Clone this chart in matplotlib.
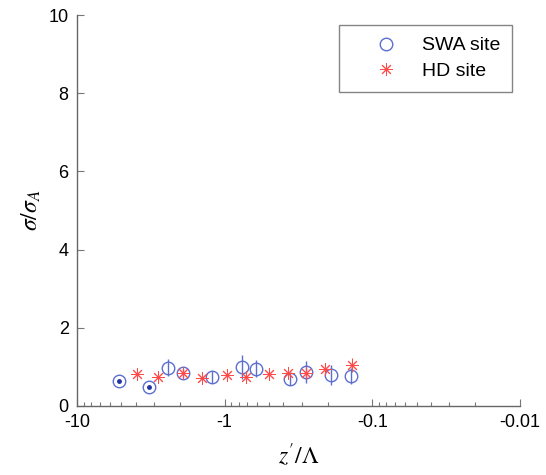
import matplotlib
matplotlib.use("Agg")
import matplotlib.pyplot as plt
from matplotlib.ticker import FixedLocator, LogLocator, NullFormatter

plt.rcParams['font.family'] = ['Liberation Sans', 'DejaVu Sans']
plt.rcParams['mathtext.fontset'] = 'stix'

# SWA site (blue circles), z'/Lambda is negative, stored as magnitude
swa_z = [5.2, 3.24, 2.41, 1.92, 1.22, 0.763, 0.614, 0.361, 0.282, 0.191, 0.140]
swa_s = [0.64, 0.48, 0.98, 0.84, 0.75, 0.99, 0.95, 0.69, 0.87, 0.79, 0.77]
swa_err = [0.0, 0.0, 0.21, 0.13, 0.15, 0.31, 0.22, 0.15, 0.27, 0.25, 0.20]

# HD site (red stars)
hd_z = [3.91, 2.82, 1.91, 1.43, 0.97, 0.72, 0.50, 0.374, 0.282, 0.209, 0.137]
hd_s = [0.82, 0.75, 0.84, 0.71, 0.79, 0.75, 0.81, 0.84, 0.84, 0.94, 1.05]
hd_err = [0.05, 0.05, 0.08, 0.06, 0.05, 0.10, 0.06, 0.08, 0.15, 0.12, 0.18]

xticks = [10, 1, 0.1, 0.01]
xticklabels = ['-10', '-1', '-0.1', '-0.01']
yticks = [0, 2, 4, 6, 8, 10]

blue = '#5b6fd0'
red = '#ff4a4a'

fig = plt.figure(figsize=(5.46, 4.75), dpi=100)
ax = fig.add_axes([0.141, 0.1453, 0.811, 0.823])

ax.errorbar(swa_z, swa_s, yerr=swa_err, fmt='none', ecolor=blue, elinewidth=1.0, capsize=0)
ax.plot(swa_z, swa_s, 'o', mfc='none', mec=blue, ms=9, mew=1.0, label='SWA site')
# the two left-most circles have a dot in the centre
ax.plot(swa_z[:2], swa_s[:2], 'o', color='#2233aa', ms=2.5, ls='none')

ax.errorbar(hd_z, hd_s, yerr=hd_err, fmt='none', ecolor=red, elinewidth=0.8, capsize=0)
ax.plot(hd_z, hd_s, marker=(8, 2, 0), ls='none', color=red, ms=9, mew=0.7, label='HD site')

ax.set_xscale('log')
ax.set_xlim(10, 0.01)
ax.set_ylim(0, 10)
ax.xaxis.set_major_locator(FixedLocator(xticks))
ax.set_xticklabels(xticklabels)
ax.xaxis.set_minor_locator(LogLocator(base=10, subs=range(2, 10), numticks=20))
ax.xaxis.set_minor_formatter(NullFormatter())
ax.set_yticks(yticks)

ax.spines['top'].set_visible(False)
ax.spines['right'].set_visible(False)
for sp in ['left', 'bottom']:
    ax.spines[sp].set_color('#666666')
    ax.spines[sp].set_linewidth(1.0)
ax.tick_params(which='major', direction='in', length=5, width=0.8, colors='#777777',
               labelcolor='black', labelsize=13, pad=6)
ax.tick_params(which='minor', direction='in', length=3, width=0.8, colors='#777777')

ax.set_xlabel(r"$z'/\Lambda$", fontsize=17, labelpad=8)
ax.set_ylabel(r"$\sigma/\sigma_A$", fontsize=17, labelpad=4)

leg = ax.legend(loc='upper right', bbox_to_anchor=(0.982, 0.974), fontsize=14,
                frameon=True, fancybox=False, edgecolor='#666666', borderpad=0.6,
                handlelength=3.6, handletextpad=0.05, labelspacing=0.4,
                borderaxespad=0)
leg.get_frame().set_linewidth(1.0)

fig.savefig('out.png', dpi=100)
